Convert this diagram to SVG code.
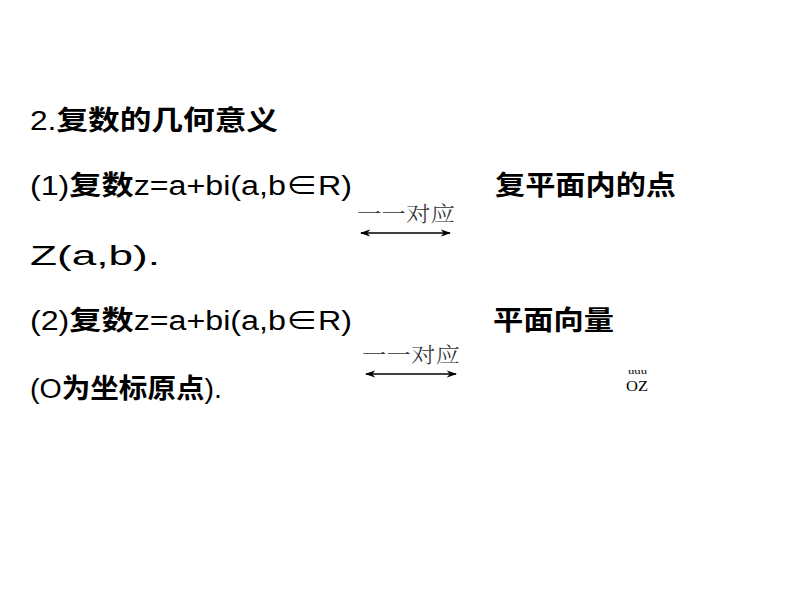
<svg xmlns="http://www.w3.org/2000/svg" width="794" height="596" viewBox="0 0 794 596">
<style>
.t{font-family:"Liberation Sans","Noto Sans CJK SC",sans-serif;font-size:27px;fill:#000}
.b{font-weight:bold}
.s{font-family:"Liberation Serif","Noto Serif CJK SC","Noto Sans CJK SC",serif;font-size:21px;fill:#333;font-weight:300}
.a{stroke:#000;stroke-width:1.3;fill:none}
</style>
<defs><marker id="h" viewBox="0 0 10 10" refX="9" refY="5" markerWidth="8" markerHeight="8" orient="auto-start-reverse"><path d="M0,1.5 L10,5 L0,8.5 L3,5 Z" fill="#000"/></marker></defs>
<rect width="794" height="596" fill="#fff"/>
<g id="title"><text class="t" x="30" y="130" textLength="248" lengthAdjust="spacingAndGlyphs">2.<tspan class="b">复数的几何意义</tspan></text></g>
<g id="line1">
<text class="t" x="30" y="195" textLength="322" lengthAdjust="spacingAndGlyphs">(1)<tspan class="b">复数</tspan>z=a+bi(a,b∈R)</text>
<text class="t b" x="495" y="195" textLength="181" lengthAdjust="spacingAndGlyphs">复平面内的点</text>
<text class="t" x="30" y="265" font-size="29" textLength="130" lengthAdjust="spacingAndGlyphs">Z(a,b).</text>
</g>
<g id="line2">
<text class="t" x="30" y="330" textLength="322" lengthAdjust="spacingAndGlyphs">(2)<tspan class="b">复数</tspan>z=a+bi(a,b∈R)</text>
<text class="t b" x="493" y="330" textLength="121" lengthAdjust="spacingAndGlyphs">平面向量</text>
<text class="t" x="30" y="398" textLength="192" lengthAdjust="spacingAndGlyphs">(O<tspan class="b">为坐标原点</tspan>).</text>
<text x="628" y="374" font-family="Liberation Serif,serif" font-size="9" textLength="19" lengthAdjust="spacingAndGlyphs">uuu</text>
<text x="626" y="391" font-family="Liberation Serif,serif" font-size="15" textLength="22" lengthAdjust="spacingAndGlyphs">OZ</text>
</g>
<g id="connectors">
<text class="s" x="357" y="221" textLength="98" lengthAdjust="spacingAndGlyphs">一一对应</text>
<line class="a" x1="361" y1="233" x2="450" y2="233" marker-start="url(#h)" marker-end="url(#h)"/>
<text class="s" x="362" y="362" textLength="98" lengthAdjust="spacingAndGlyphs">一一对应</text>
<line class="a" x1="366" y1="374" x2="456" y2="374" marker-start="url(#h)" marker-end="url(#h)"/>
</g>
</svg>
